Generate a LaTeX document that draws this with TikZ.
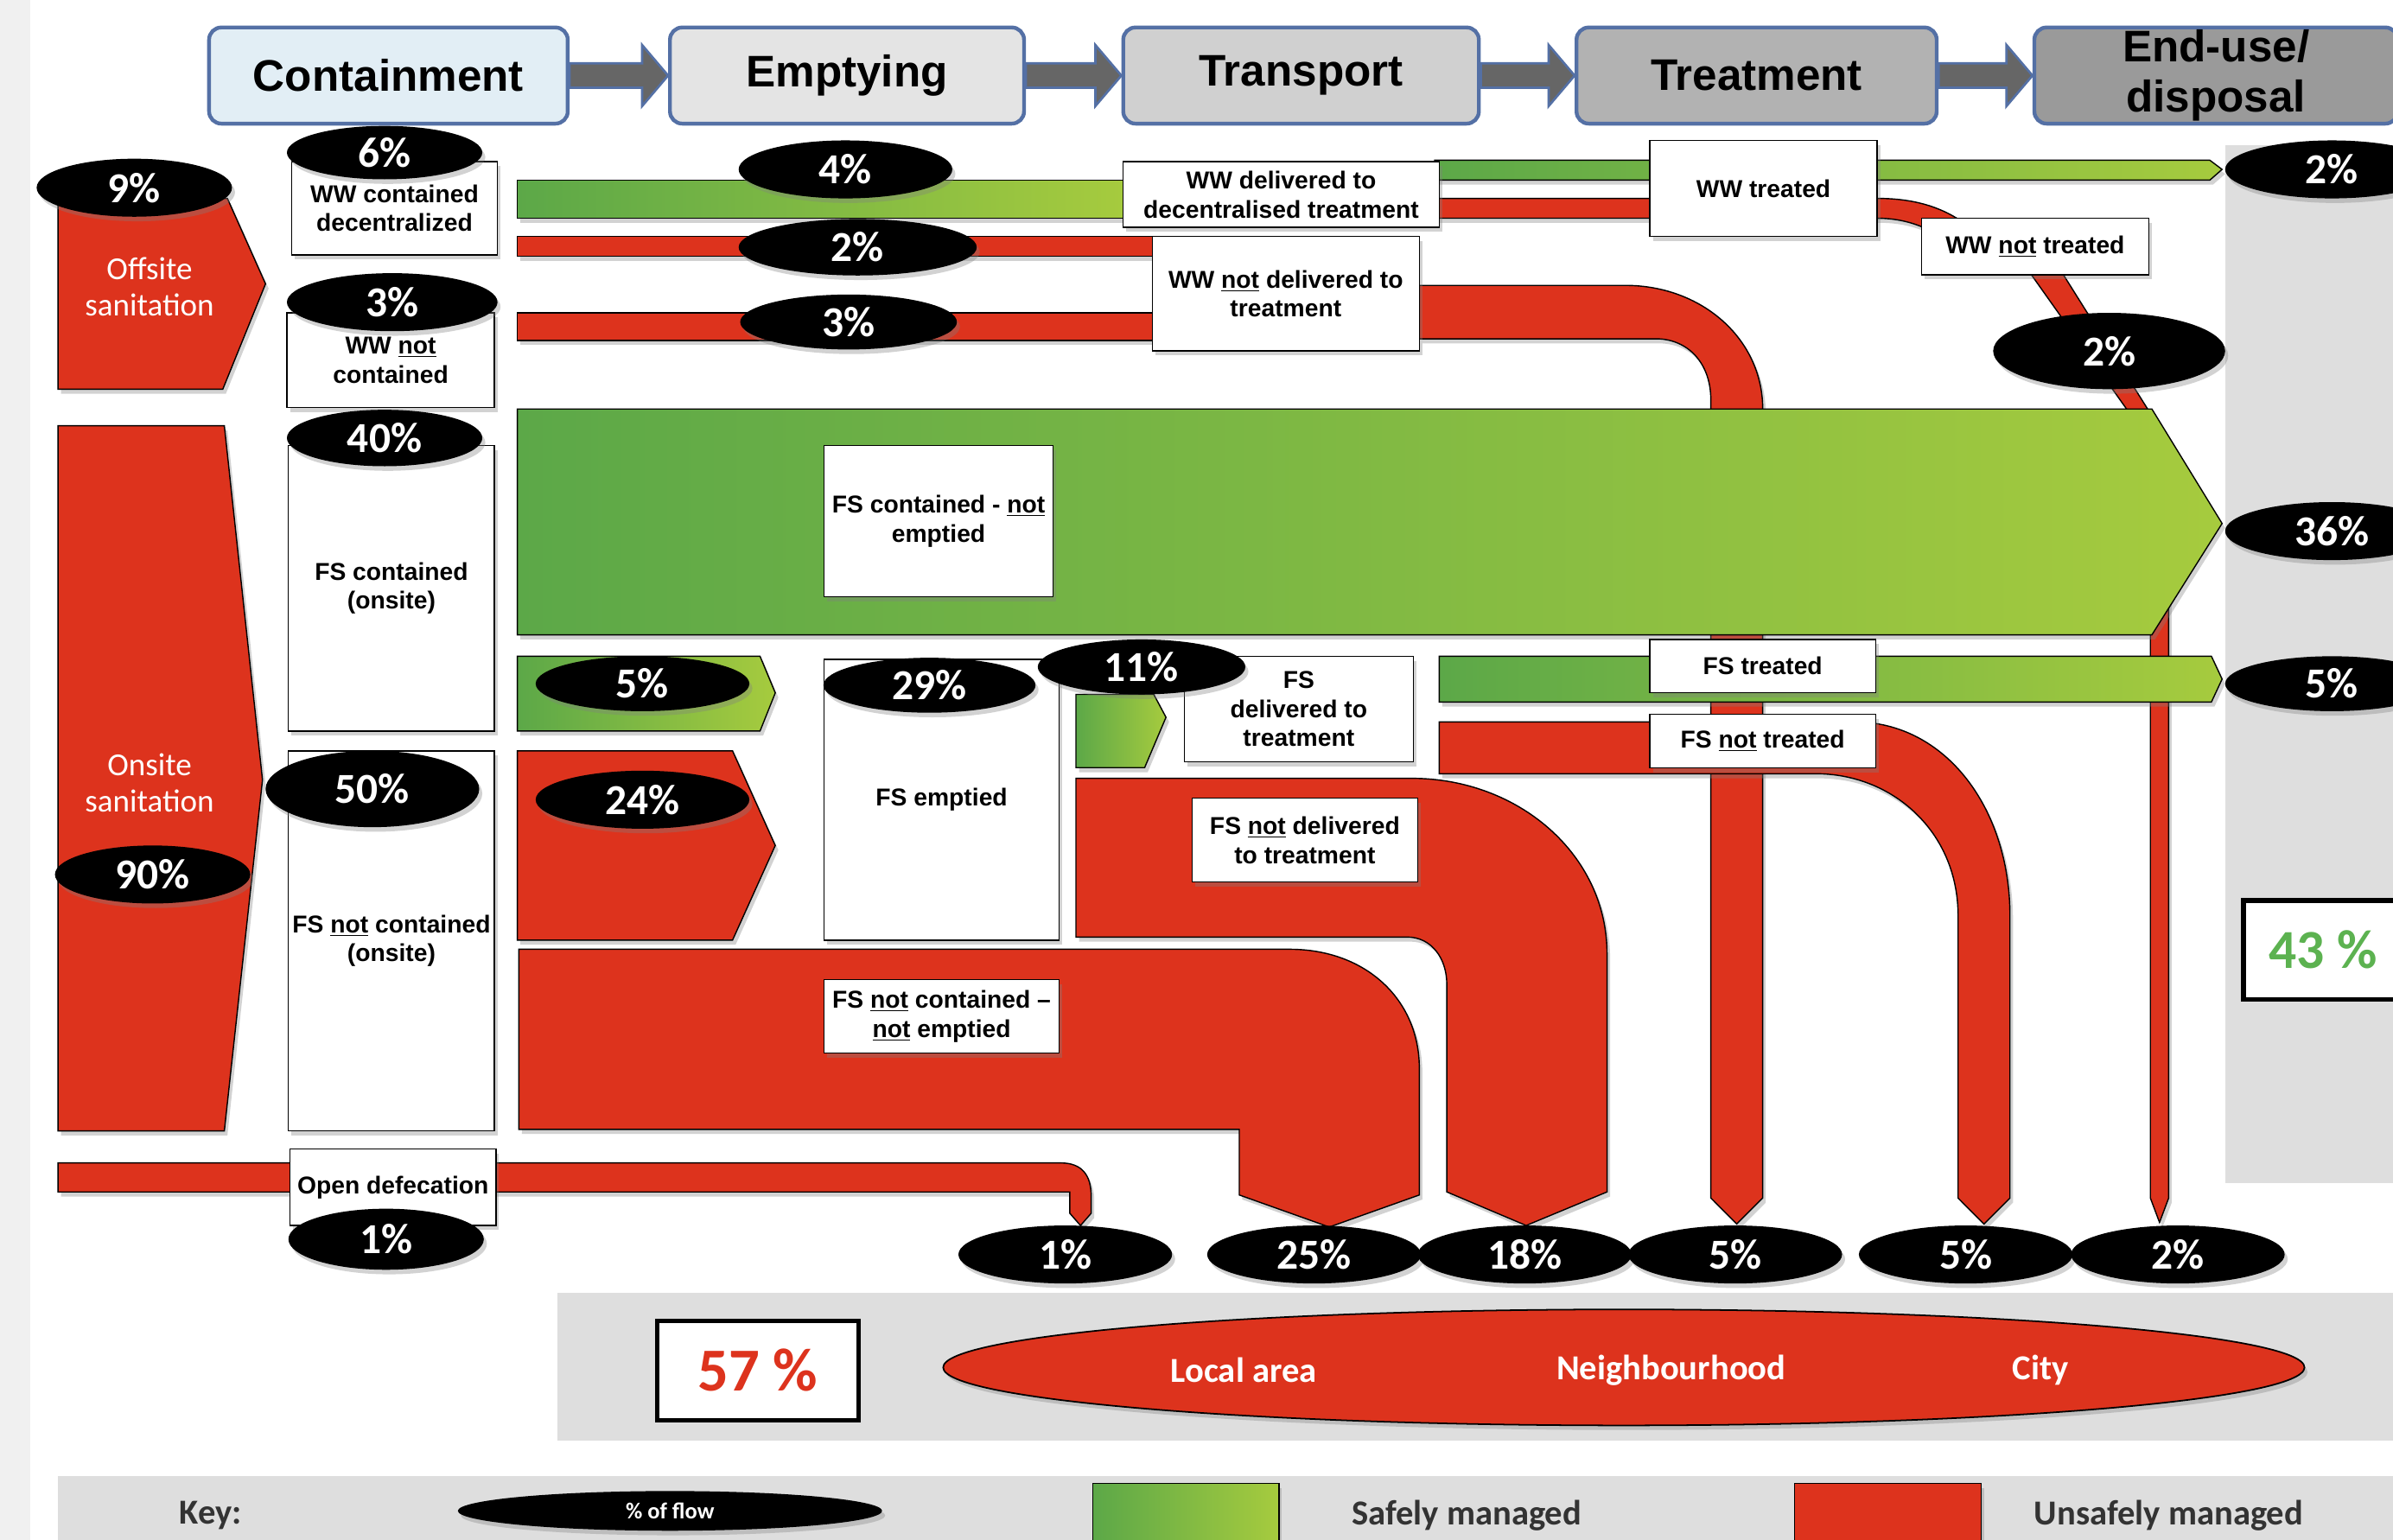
\documentclass[tikz,border=0pt]{standalone}
\usepackage{fontspec}
\setmainfont{Liberation Sans}
\newfontfamily\carfont{Carlito}
\usetikzlibrary{shapes.geometric,shadows}
\definecolor{redf}{RGB}{221,51,29}
\definecolor{gL}{RGB}{92,168,72}
\definecolor{gR}{RGB}{166,203,62}
\definecolor{hblue}{RGB}{84,112,165}
\definecolor{bandgray}{RGB}{222,222,222}
\definecolor{pctgreen}{RGB}{92,178,80}
\definecolor{hd1}{RGB}{226,238,245}
\definecolor{hd2}{RGB}{228,228,228}
\definecolor{hd3}{RGB}{208,208,208}
\definecolor{hd4}{RGB}{178,178,178}
\definecolor{hd5}{RGB}{154,154,154}
\begin{document}
\begin{tikzpicture}[x=1pt,y=-1pt,
 shd/.style={drop shadow={opacity=.35,shadow xshift=2pt,shadow yshift=-3pt}},
 rflow/.style={fill=redf,draw=black,line width=.8pt,shd},
 gflow/.style={left color=gL,right color=gR,draw=black,line width=.8pt,shd},
 box/.style={draw,fill=white,line width=.8pt,align=center,inner sep=0pt,font=\bfseries\fontsize{16}{19}\selectfont,shd},
 pct/.style={ellipse,fill=black,text=white,inner sep=0pt,minimum width=140pt,minimum height=38pt,font=\carfont\bfseries\fontsize{28}{30}\selectfont,shd},
 hdr/.style={draw=hblue,line width=2.5pt,rounded corners=8pt,minimum height=63pt,align=center,inner sep=0pt,font=\bfseries\fontsize{29}{33}\selectfont},
 harr/.style={fill=black!60,draw=hblue,line width=1.5pt},
 wtxt/.style={text=white,align=center,font=\carfont\fontsize{21}{24}\selectfont},
 btxt/.style={font=\carfont\bfseries\fontsize{23}{25}\selectfont},
 big/.style={draw,fill=white,line width=3pt,minimum width=132pt,minimum height=65pt,font=\carfont\bfseries\fontsize{40}{40}\selectfont}]
\useasboundingbox (0,0) rectangle (1568,1009);
\clip (0,0) rectangle (1568,1009);
\fill[white] (0,0) rectangle (1568,1009);
\fill[black!6] (0,0) rectangle (20,1009);
\fill[bandgray] (1458,95) rectangle (1568,775);
\fill[bandgray] (365,847) rectangle (1568,944);
\fill[bandgray] (38,967) rectangle (1568,1009);

\path[rflow] (38,130) -- (149,130) -- (174,186) -- (146,255) -- (38,255) -- cycle;
\path[rflow] (38,279) -- (147,279) -- (172,511) -- (147,741) -- (38,741) -- cycle;
\path[rflow] (38,762) -- (695,762) .. controls (709,762) and (715,770) .. (715,784) -- (715,795) -- (708,803) -- (701,795) -- (701,781) -- (38,781) -- cycle;
\path[rflow] (339,155) rectangle (756,168);
\path[rflow] (339,205) rectangle (756,223);
\path[rflow] (940,130) -- (1230,130) .. controls (1255,130) and (1275,136) .. (1292,150) -- (1268,153) .. controls (1258,147) and (1245,143) .. (1230,143) -- (940,143) -- cycle;
\path[rflow] (1331,180) -- (1352,180) -- (1421,290) -- (1421,785) -- (1415,801) -- (1409,785) -- (1409,290) -- cycle;
\path[rflow] (930,187) -- (1065,187) .. controls (1115,187) and (1155,222) .. (1155,268) -- (1155,785) -- (1138,802) -- (1121,785) -- (1121,262) .. controls (1121,238) and (1106,222) .. (1085,222) -- (930,222) -- cycle;
\path[rflow] (339,492) -- (480,492) -- (508,554) -- (480,616) -- (339,616) -- cycle;
\path[rflow] (340,622) -- (845,622) .. controls (895,622) and (930,655) .. (930,700) -- (930,783) -- (871,804) -- (812,783) -- (812,740) -- (340,740) -- cycle;
\path[rflow] (705,510) -- (925,510) .. controls (995,510) and (1053,560) .. (1053,625) -- (1053,781) -- (1000,803) -- (948,781) -- (948,645) .. controls (948,628) and (938,614) .. (922,614) -- (705,614) -- cycle;
\path[rflow] (943,473) -- (1215,473) .. controls (1275,473) and (1317,530) .. (1317,600) -- (1317,785) -- (1300,802) -- (1283,785) -- (1283,600) .. controls (1283,545) and (1240,507) .. (1190,507) -- (943,507) -- cycle;

\path[gflow] (339,118) rectangle (738,143);
\path[gflow] (940,105) -- (1448,105) -- (1456,111) -- (1448,118) -- (940,118) -- cycle;
\path[gflow] (339,268) -- (1410,268) -- (1456,343) -- (1410,416) -- (339,416) -- cycle;
\path[gflow] (339,430) -- (498,430) -- (508,454) -- (498,479) -- (339,479) -- cycle;
\path[gflow] (705,455) -- (756,455) -- (764,470) -- (750,503) -- (705,503) -- cycle;
\path[gflow] (943,430) -- (1449,430) -- (1456,445) -- (1449,460) -- (943,460) -- cycle;

\node[wtxt] (offsite) at (98,188) {Offsite\\sanitation};
\node[wtxt] (onsite) at (98,513) {Onsite\\sanitation};

\node[box,minimum width=135pt,minimum height=61pt] (wwcd) at (258.5,136.5) {WW contained\\decentralized};
\node[box,minimum width=136pt,minimum height=62pt] (wwnc) at (256,236) {WW \underline{not}\\contained};
\node[box,minimum width=135pt,minimum height=187pt] (fsc) at (256.5,385.5) {FS contained\\(onsite)};
\node[box,minimum width=135pt,minimum height=249pt] (fsnc) at (256.5,616.5) {FS \underline{not} contained\\(onsite)};
\node[box,minimum width=135pt,minimum height=50pt] (od) at (257.5,778) {Open defecation};
\node[box,minimum width=207pt,minimum height=43pt] (wwdd) at (839.5,127.5) {WW delivered to\\decentralised treatment};
\node[box,minimum width=175pt,minimum height=75pt] (wwnd) at (842.5,192.5) {WW \underline{not} delivered to\\treatment};
\node[box,minimum width=149pt,minimum height=63pt] (wwt) at (1155.5,123.5) {WW treated};
\node[box,minimum width=149pt,minimum height=37pt] (wwnt) at (1333.5,161.5) {WW \underline{not} treated};
\node[box,minimum width=150pt,minimum height=99pt] (fscne) at (615,341.5) {FS contained - \underline{not}\\emptied};
\node[box,minimum width=154pt,minimum height=184pt] (fse) at (617,524) {FS emptied};
\node[box,minimum width=154pt,minimum height=48pt] (fscnne) at (617,666) {FS \underline{not} contained --\\\underline{not} emptied};
\node[box,minimum width=150pt,minimum height=69pt] (fsd) at (851,464.5) {FS\\delivered to\\treatment};
\node[box,minimum width=148pt,minimum height=55pt] (fsnd) at (855,550.5) {FS \underline{not} delivered\\to treatment};
\node[box,minimum width=148pt,minimum height=35pt] (fst) at (1155,436.5) {FS treated};
\node[box,minimum width=148pt,minimum height=35pt] (fsnt) at (1155,485.5) {FS \underline{not} treated};

\node[pct,minimum width=128pt] (p9) at (88,123) {9\%};
\node[pct,minimum width=128pt,minimum height=35pt] (p6) at (252,100) {6\%};
\node[pct,minimum width=138pt] (p3a) at (257,198) {3\%};
\node[pct,minimum width=128pt,minimum height=37pt] (p40) at (252,287) {40\%};
\node[pct,minimum height=50pt] (p50) at (244,517) {50\%};
\node[pct,minimum width=128pt] (p90) at (100,573) {90\%};
\node[pct,minimum width=128pt,minimum height=40pt] (p1a) at (253,812) {1\%};
\node[pct] (p4) at (554,111) {4\%};
\node[pct,minimum width=156pt,minimum height=37pt] (p2a) at (562,162) {2\%};
\node[pct,minimum width=142pt,minimum height=36pt] (p3b) at (556,211) {3\%};
\node[pct,minimum height=36pt] (p5a) at (421,448) {5\%};
\node[pct] (p24) at (421,524) {24\%};
\node[pct,minimum width=139pt,minimum height=36pt] (p29) at (609,449) {29\%};
\node[pct,minimum width=136pt,minimum height=36pt] (p11) at (748,437) {11\%};
\node[pct] (p2r) at (1528,111) {2\%};
\node[pct,minimum width=152pt,minimum height=50pt] (p2m) at (1382,230) {2\%};
\node[pct] (p36) at (1528,348) {36\%};
\node[pct,minimum height=36pt] (p5r) at (1528,448) {5\%};
\node[pct] (b1) at (698,822) {1\%};
\node[pct] (b25) at (861,822) {25\%};
\node[pct] (b18) at (999,822) {18\%};
\node[pct] (b5a) at (1137,822) {5\%};
\node[pct] (b5b) at (1288,822) {5\%};
\node[pct] (b2) at (1427,822) {2\%};

\node[hdr,fill=hd1,minimum width=235pt] (cont) at (254.5,49.5) {Containment};
\node[hdr,fill=hd2,minimum width=232pt] (empt) at (555,49.5) {Emptying};
\node[hdr,fill=hd3,minimum width=233pt] (trans) at (852.5,49.5) {Transport};
\node[hdr,fill=hd4,minimum width=236pt] (treat) at (1151,49.5) {Treatment};
\node[hdr,fill=hd5,minimum width=238pt] (endu) at (1452,49.5) {End-use/\\disposal};
\foreach \p/\q in {cont/empt,empt/trans,trans/treat,treat/endu}
  \draw[harr] ([yshift=8pt]\p.east) -- ([xshift=-17pt,yshift=8pt]\q.west) -- ([xshift=-17pt,yshift=20pt]\q.west) -- (\q.west) -- ([xshift=-17pt,yshift=-20pt]\q.west) -- ([xshift=-17pt,yshift=-8pt]\q.west) -- ([yshift=-8pt]\p.east) -- cycle;

\node[big,text=redf] (unsafe) at (496.5,898) {57 \%};
\node[big,text=pctgreen,minimum width=104pt,font=\carfont\bfseries\fontsize{36}{36}\selectfont] (safe) at (1522,622.5) {43 \%};
\node[ellipse,fill=redf,draw=black,line width=1pt,minimum width=892pt,minimum height=76pt,shd] (area) at (1064,896) {};
\node[wtxt,font=\carfont\bfseries\fontsize{23}{25}\selectfont] (local) at (815,898) {Local area};
\node[wtxt,font=\carfont\bfseries\fontsize{23}{25}\selectfont] (neigh) at (1095,898) {Neighbourhood};
\node[wtxt,font=\carfont\bfseries\fontsize{23}{25}\selectfont] (city) at (1337,898) {City};

\node[btxt,text=black!80] (key) at (138,993) {Key:};
\node[pct,minimum width=278pt,minimum height=26pt,font=\carfont\bfseries\fontsize{15}{16}\selectfont] (keyflow) at (439,990) {\% of flow};
\path[gflow] (716,972) rectangle (838,1012);
\path[rflow] (1176,972) rectangle (1298,1012);
\node[btxt,text=black!80] (safely) at (961,993) {Safely managed};
\node[btxt,text=black!80] (unsafely) at (1421,993) {Unsafely managed};
\end{tikzpicture}
\end{document}
